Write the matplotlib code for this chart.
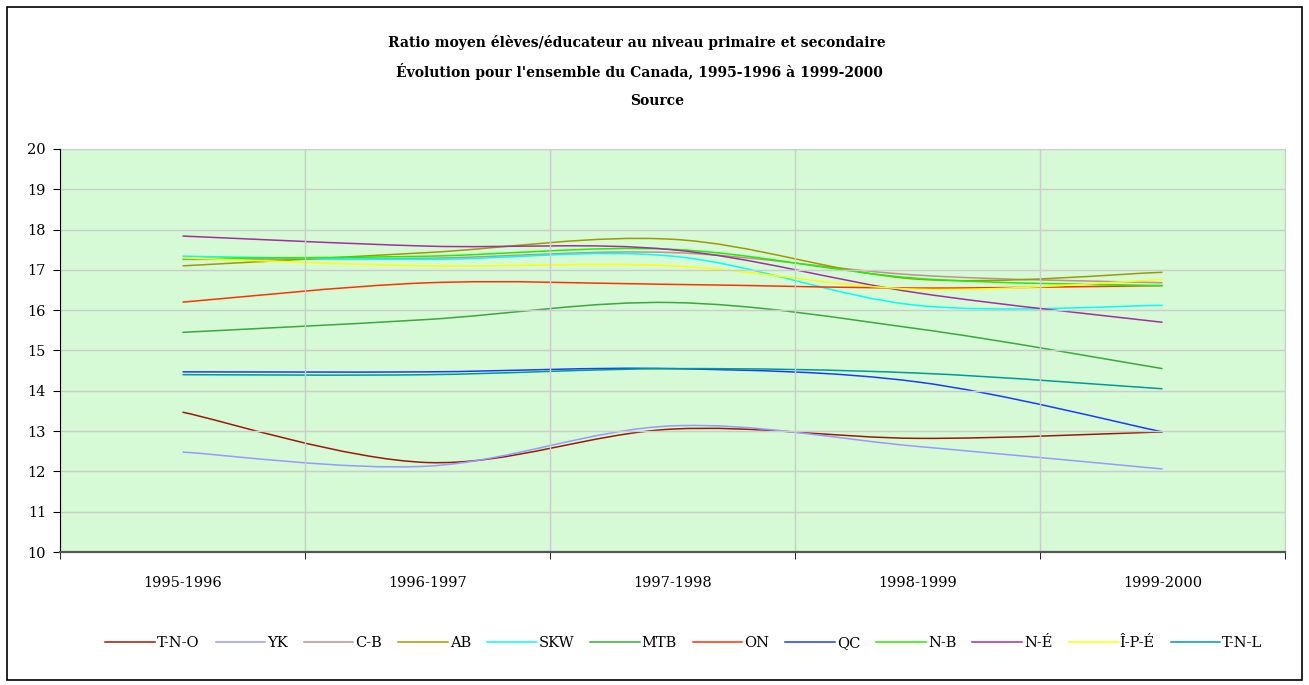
import matplotlib
matplotlib.use("Agg")
import matplotlib.pyplot as plt
from matplotlib.path import Path
from matplotlib.patches import PathPatch, Rectangle
from matplotlib.lines import Line2D
import numpy as np

years = ["1995-1996", "1996-1997", "1997-1998", "1998-1999", "1999-2000"]

tno = [13.47, 12.22, 13.05, 12.82, 12.98]
yk = [12.48, 12.13, 13.13, 12.62, 12.06]
cb = [17.26, 17.29, 17.43, 16.87, 16.68]
ab = [17.10, 17.43, 17.76, 16.77, 16.94]
skw = [17.34, 17.26, 17.34, 16.12, 16.12]
mtb = [15.45, 15.77, 16.19, 15.54, 14.55]
on = [16.20, 16.68, 16.64, 16.55, 16.61]
qc = [14.47, 14.47, 14.55, 14.22, 12.98]
nb = [17.28, 17.34, 17.51, 16.79, 16.61]
ne = [17.84, 17.59, 17.50, 16.43, 15.70]
ipe = [17.30, 17.10, 17.10, 16.52, 16.76]
tnl = [14.40, 14.40, 14.55, 14.44, 14.05]

labels = ["T-N-O", "YK", "C-B", "AB", "SKW", "MTB", "ON", "QC", "N-B", "N-É", "Î-P-É", "T-N-L"]
series = [tno, yk, cb, ab, skw, mtb, on, qc, nb, ne, ipe, tnl]
colors = ["#9a1a0a", "#9999ff", "#c09090", "#a09a00", "#00ffff", "#3aa83a",
          "#ff3300", "#1a3cff", "#22ee00", "#a030a0", "#ffff00", "#009999"]


def smooth_path(xs, ys):
    # Excel-like smoothed line: Catmull-Rom segments as cubic Bezier
    pts = np.column_stack([xs, ys]).astype(float)
    ext = np.vstack([pts[0], pts, pts[-1]])
    verts = [pts[0]]
    codes = [Path.MOVETO]
    for i in range(len(pts) - 1):
        p0, p1, p2, p3 = ext[i], ext[i + 1], ext[i + 2], ext[i + 3]
        verts += [p1 + (p2 - p0) / 6, p2 - (p3 - p1) / 6, p2]
        codes += [Path.CURVE4] * 3
    return Path(verts, codes)


fig = plt.figure(figsize=(13.09, 6.85), dpi=100)
fig.patches.append(Rectangle((7 / 1309, 5 / 685), 1295 / 1309, 673 / 685,
                             transform=fig.transFigure, fill=False,
                             edgecolor="black", linewidth=1.2))

ax = fig.add_axes([60 / 1309, 133 / 685, 1225 / 1309, 403 / 685])
ax.set_facecolor("#d6fad6")

x = np.arange(len(years))
for vals, col in zip(series, colors):
    ax.add_patch(PathPatch(smooth_path(x, vals), fill=False, edgecolor=col, linewidth=1.1))

ax.set_xlim(-0.5, len(years) - 0.5)
ax.set_ylim(10, 20)
ax.set_yticks(range(10, 21))
ax.set_xticks(x)
ax.set_xticklabels(years)
ax.set_xticks(np.arange(-0.5, len(years), 1), minor=True)
ax.tick_params(axis="x", which="major", length=0, pad=17, labelsize=11)
ax.tick_params(axis="x", which="minor", length=5, direction="out", color="black")
ax.tick_params(axis="y", length=5, direction="out", labelsize=11, pad=5)
ax.grid(True, which="minor", axis="x", color="#cccccc", linewidth=1)
ax.grid(True, which="major", axis="y", color="#cccccc", linewidth=1)
for lbl in ax.get_xticklabels() + ax.get_yticklabels():
    lbl.set_family("DejaVu Serif")
    lbl.set_fontsize(10.5)
ax.spines["top"].set_visible(False)
ax.spines["right"].set_color("#cccccc")
ax.spines["left"].set_color("black")
ax.spines["bottom"].set_color("#555555")
ax.spines["bottom"].set_linewidth(1.6)

title_font = dict(family="DejaVu Serif", fontsize=10, fontweight="bold", ha="center", va="center")
fig.text(637 / 1309, 1 - 42 / 685, "Ratio moyen élèves/éducateur au niveau primaire et secondaire", **title_font)
fig.text(639 / 1309, 1 - 72 / 685, "Évolution pour l'ensemble du Canada, 1995-1996 à 1999-2000", **title_font)
fig.text(657 / 1309, 1 - 101 / 685, "Source", **title_font)

handles = [Line2D([], [], color=c, linewidth=1.1) for c in colors]
fig.legend(handles, labels, loc="center", bbox_to_anchor=(684 / 1309, 1 - 643 / 685),
           ncol=12, frameon=False, handlelength=3.4, handletextpad=0.15,
           columnspacing=1.08, prop={"family": "DejaVu Serif", "size": 10.5})

fig.savefig("out.png", dpi=100)
